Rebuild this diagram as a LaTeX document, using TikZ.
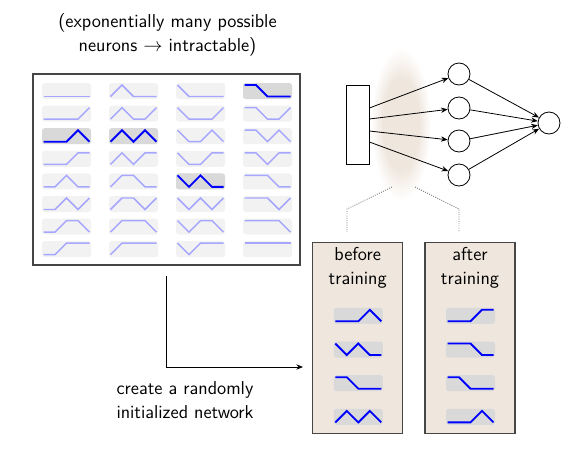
\documentclass[tikz,border=0pt]{standalone}
\usetikzlibrary{arrows.meta,calc}
\definecolor{paper}{RGB}{239,230,221}
\definecolor{frame}{RGB}{70,70,70}
\pgfdeclareradialshading{haze}{\pgfpoint{0bp}{0bp}}{color(0bp)=(paper); color(15bp)=(paper); color(25bp)=(white); color(50bp)=(white)}
\tikzset{
  faintbg/.style={fill=gray!10},
  faintln/.style={blue!35, line width=1.1pt},
  boldbg/.style={fill=gray!30},
  boldln/.style={blue, line width=1.4pt},
  caption/.style={align=center, font=\sffamily\fontsize{14}{18}\selectfont},
  neuron/.style={draw, circle, minimum size=16.5pt, inner sep=0pt, line width=0.6pt},
  conn/.style={-{Stealth[length=5pt,width=4pt]}, line width=0.6pt},
}
% one neuron: x, y, look, five levels
\newcommand{\wave}[8]{%
  \path[#3bg, rounded corners=2pt] (#1-24.5,#2-8) rectangle (#1+24.5,#2+8);
  \draw[#3ln] (#1-23,#2+5.5-11.5*#4) -- (#1-11.5,#2+5.5-11.5*#5) -- (#1,#2+5.5-11.5*#6)
    -- (#1+11.5,#2+5.5-11.5*#7) -- (#1+23,#2+5.5-11.5*#8);
}
\begin{document}
\begin{tikzpicture}[x=0.75pt, y=-0.75pt]
  \useasboundingbox (0,0) rectangle (571,457);

  % Pool of all neurons
  \node[caption] (note) at (167.5,35) {(exponentially many possible\\neurons $\to$ intractable)};
  \node[draw=frame, line width=0.8pt, minimum width=200.25pt, minimum height=143.25pt] (pool) at (166.5,169.5) {};
  \foreach \c in {0,...,3}{
    \foreach \r in {0,...,7}{
      \pgfmathtruncatemacro\ba{int(\c/2)}
      \pgfmathtruncatemacro\bb{mod(\c,2)}
      \pgfmathtruncatemacro\bc{int(\r/4)}
      \pgfmathtruncatemacro\bd{mod(int(\r/2),2)}
      \pgfmathtruncatemacro\be{mod(\r,2)}
      \wave{66.5+67*\c}{91+22.6*\r}{faint}{\ba}{\bb}{\bc}{\bd}{\be}
    }
  }
  % Picked ones
  \wave{66.5}{136.2}{bold}{0}{0}{0}{1}{0}
  \wave{133.5}{136.2}{bold}{0}{1}{0}{1}{0}
  \wave{200.5}{181.4}{bold}{1}{0}{1}{0}{0}
  \wave{267.5}{91}{bold}{1}{1}{0}{0}{0}

  % Network
  \shade[shading=haze] (401,124) ellipse (30 and 76);
  \node[draw, line width=0.6pt, minimum width=17.25pt, minimum height=59.25pt] (in) at (357.5,124.5) {};
  \node[neuron] (h1) at (459,74) {};
  \node[neuron] (h2) at (459,108) {};
  \node[neuron] (h3) at (459,141) {};
  \node[neuron] (h4) at (459,175) {};
  \node[neuron] (out) at (549,123) {};
  \draw[conn] ($(in.east)+(0,-16.5)$) -- (h1);
  \draw[conn] ($(in.east)+(0,-5.5)$) -- (h2);
  \draw[conn] ($(in.east)+(0,6.5)$) -- (h3);
  \draw[conn] ($(in.east)+(0,17.5)$) -- (h4);
  \foreach \h in {h1,h2,h3,h4}
    \draw[conn] (\h) -- (out);

  % Zoom lines
  \coordinate (zl) at (392,187);
  \coordinate (zr) at (415,187);
  \draw[gray, densely dotted, line width=0.7pt] (zl) -- (347,209) -- (347,232);
  \draw[gray, densely dotted, line width=0.7pt] (zr) -- (459,209) -- (459,232);

  % Before / after
  \node[draw=frame, fill=paper, line width=0.8pt, minimum width=67.5pt, minimum height=143pt] (before) at (357.7,338) {};
  \node[draw=frame, fill=paper, line width=0.8pt, minimum width=67.5pt, minimum height=143pt] (after) at (470,338) {};
  \node[caption] (btxt) at (357.7,267.5) {before\\training};
  \node[caption] (atxt) at (470,267.5) {after\\training};
  \wave{358.3}{315.8}{bold}{0}{0}{0}{1}{0}
  \wave{358.3}{349.5}{bold}{1}{0}{1}{0}{0}
  \wave{358.3}{383.2}{bold}{1}{1}{0}{0}{0}
  \wave{358.3}{416.9}{bold}{0}{1}{0}{1}{0}
  \wave{470.5}{315.8}{bold}{0}{0}{0}{1}{1}
  \wave{470.5}{349.5}{bold}{1}{1}{1}{0}{0}
  \wave{470.5}{383.2}{bold}{1}{1}{0}{0}{0}
  \wave{470.5}{416.9}{bold}{0}{0}{0}{1}{0}

  % Random init
  \coordinate (pick) at (166.7,276);
  \coordinate (init) at (303,367);
  \draw[conn] (pick) |- (init);
  \node[caption] (hint) at (185,400) {create a randomly\\initialized network};
\end{tikzpicture}
\end{document}
